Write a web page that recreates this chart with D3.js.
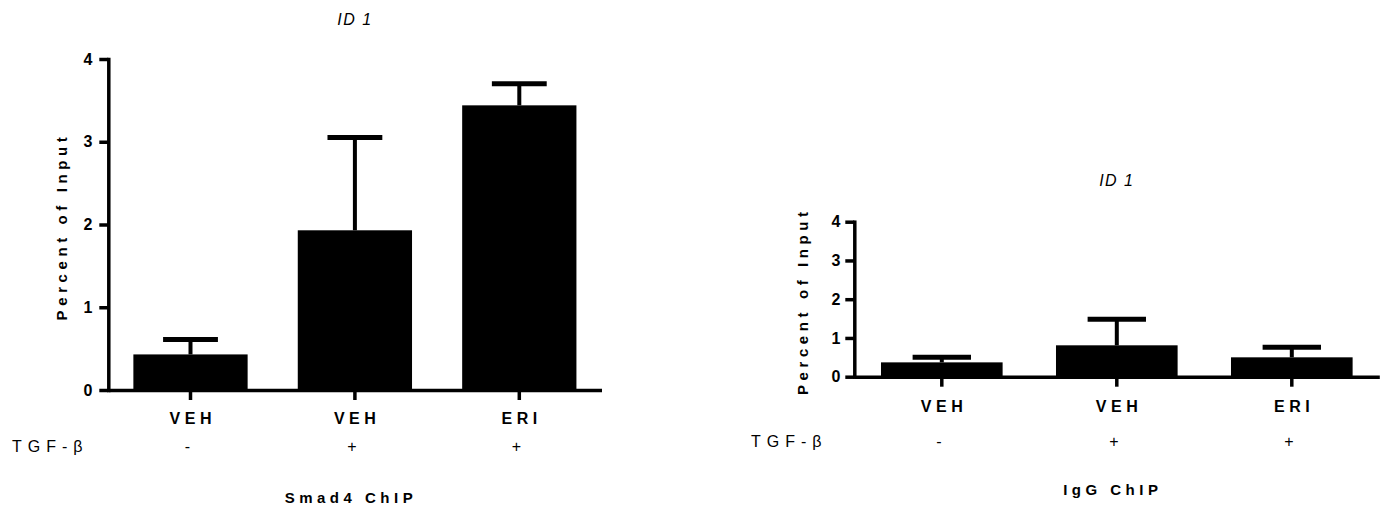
<!DOCTYPE html>
<html>
<head>
<meta charset="utf-8">
<script src="https://cdn.jsdelivr.net/npm/d3@7"></script>
<style>
  body { margin: 0; background: #fff; }
  svg { font-family: "Liberation Sans", Arial, sans-serif; }
</style>
</head>
<body>
<svg id="chart" width="1387" height="510"></svg>
<script>
// data
var groups = ["VEH", "VEH", "ERI"];
var tgf = ["-", "+", "+"];
var yTicks = [0, 1, 2, 3, 4];

var smad4Mean = [0.43, 1.93, 3.44];
var smad4Err = [0.18, 1.12, 0.26];

var iggMean = [0.37, 0.81, 0.50];
var iggErr = [0.13, 0.67, 0.26];

var svg = d3.select("#chart");

// one panel = one bar chart with error bars
function drawPanel(opt) {
    var x = d3.scaleBand()
        .domain(d3.range(groups.length))
        .range([opt.left, opt.right])
        .paddingInner(0.305)
        .paddingOuter(0.1525);
    var y = d3.scaleLinear().domain([0, 4]).range([opt.bottom, opt.top]);
    var g = svg.append("g");
    var capW = x.bandwidth() * 0.48;

    // bars
    g.selectAll("rect.bar")
        .data(opt.mean)
        .enter()
        .append("rect")
        .attr("class", "bar")
        .attr("x", function(d, i) { return x(i); })
        .attr("y", function(d) { return y(d); })
        .attr("width", x.bandwidth())
        .attr("height", function(d) { return y(0) - y(d); })
        .attr("fill", "#000");

    // error bars (upper only)
    var eb = g.selectAll("g.err")
        .data(opt.mean)
        .enter()
        .append("g")
        .attr("class", "err");
    eb.append("line")
        .attr("x1", function(d, i) { return x(i) + x.bandwidth() / 2; })
        .attr("x2", function(d, i) { return x(i) + x.bandwidth() / 2; })
        .attr("y1", function(d) { return y(d); })
        .attr("y2", function(d, i) { return y(d + opt.err[i]); })
        .attr("stroke", "#000")
        .attr("stroke-width", 4);
    eb.append("line")
        .attr("x1", function(d, i) { return x(i) + x.bandwidth() / 2 - capW / 2; })
        .attr("x2", function(d, i) { return x(i) + x.bandwidth() / 2 + capW / 2; })
        .attr("y1", function(d, i) { return y(d + opt.err[i]); })
        .attr("y2", function(d, i) { return y(d + opt.err[i]); })
        .attr("stroke", "#000")
        .attr("stroke-width", 5);

    // y axis
    var yAxis = g.append("g")
        .attr("transform", "translate(" + opt.left + ",0)")
        .call(d3.axisLeft(y).tickValues(yTicks).tickFormat(d3.format("d"))
            .tickSize(9).tickSizeOuter(0).tickPadding(opt.tickPad));
    yAxis.select(".domain").attr("stroke-width", 3.5).attr("stroke-linecap", "square");
    yAxis.selectAll(".tick line").attr("stroke-width", 3.5);
    yAxis.selectAll(".tick text")
        .attr("font-size", 16)
        .attr("font-weight", "bold")
        .attr("fill", "#000")
        .attr("font-family", "Liberation Sans, Arial, sans-serif");

    // x axis
    var xAxis = g.append("g")
        .attr("transform", "translate(0," + opt.bottom + ")")
        .call(d3.axisBottom(x).tickSize(10).tickSizeOuter(0).tickFormat(""));
    xAxis.select(".domain").attr("stroke-width", 3.5);
    xAxis.selectAll(".tick line").attr("stroke-width", 3.5);

    // group labels
    g.selectAll("text.grp")
        .data(groups)
        .enter()
        .append("text")
        .attr("class", "grp")
        .attr("x", function(d, i) { return x(i) + x.bandwidth() / 2 + 2.25; })
        .attr("y", opt.grpY)
        .attr("text-anchor", "middle")
        .attr("font-size", 16)
        .attr("font-weight", "bold")
        .attr("letter-spacing", 4.5)
        .text(function(d) { return d; });

    // TGF-b row
    g.selectAll("text.tgf")
        .data(tgf)
        .enter()
        .append("text")
        .attr("class", "tgf")
        .attr("x", function(d, i) { return x(i) + x.bandwidth() / 2 - 3; })
        .attr("y", opt.tgfY)
        .attr("text-anchor", "middle")
        .attr("font-size", 16)
        .text(function(d) { return d; });
    g.append("text")
        .attr("x", opt.tgfX)
        .attr("y", opt.tgfY)
        .attr("font-size", 16)
        .attr("letter-spacing", 6)
        .text("TGF-β");

    var mid = (opt.left + opt.right) / 2;

    // title
    g.append("text")
        .attr("x", mid)
        .attr("y", opt.titleY)
        .attr("text-anchor", "middle")
        .attr("font-size", 16)
        .attr("font-style", "italic")
        .attr("letter-spacing", 1.5)
        .text("ID 1");

    // bottom caption
    g.append("text")
        .attr("x", mid - 4)
        .attr("y", opt.capY)
        .attr("text-anchor", "middle")
        .attr("font-size", 15)
        .attr("font-weight", "bold")
        .attr("letter-spacing", 4.5)
        .text(opt.caption);

    // y label
    g.append("text")
        .attr("transform", "translate(" + opt.ylabX + "," + ((opt.top + opt.bottom) / 2 + 2) + ") rotate(-90)")
        .attr("text-anchor", "middle")
        .attr("font-size", 15)
        .attr("font-weight", "bold")
        .attr("letter-spacing", 4.6)
        .text("Percent of Input");
}

drawPanel({
    mean: smad4Mean, err: smad4Err,
    left: 108.3, right: 601.5, top: 59, bottom: 390,
    tickPad: 7, grpY: 424, tgfY: 452, tgfX: 12,
    titleY: 25, capY: 503, ylabX: 67, caption: "Smad4 ChIP"
});

drawPanel({
    mean: iggMean, err: iggErr,
    left: 854.3, right: 1379.3, top: 221.7, bottom: 376.7,
    tickPad: 5, grpY: 412, tgfY: 447, tgfX: 751,
    titleY: 186, capY: 495, ylabX: 808, caption: "IgG ChIP"
});
</script>
</body>
</html>
